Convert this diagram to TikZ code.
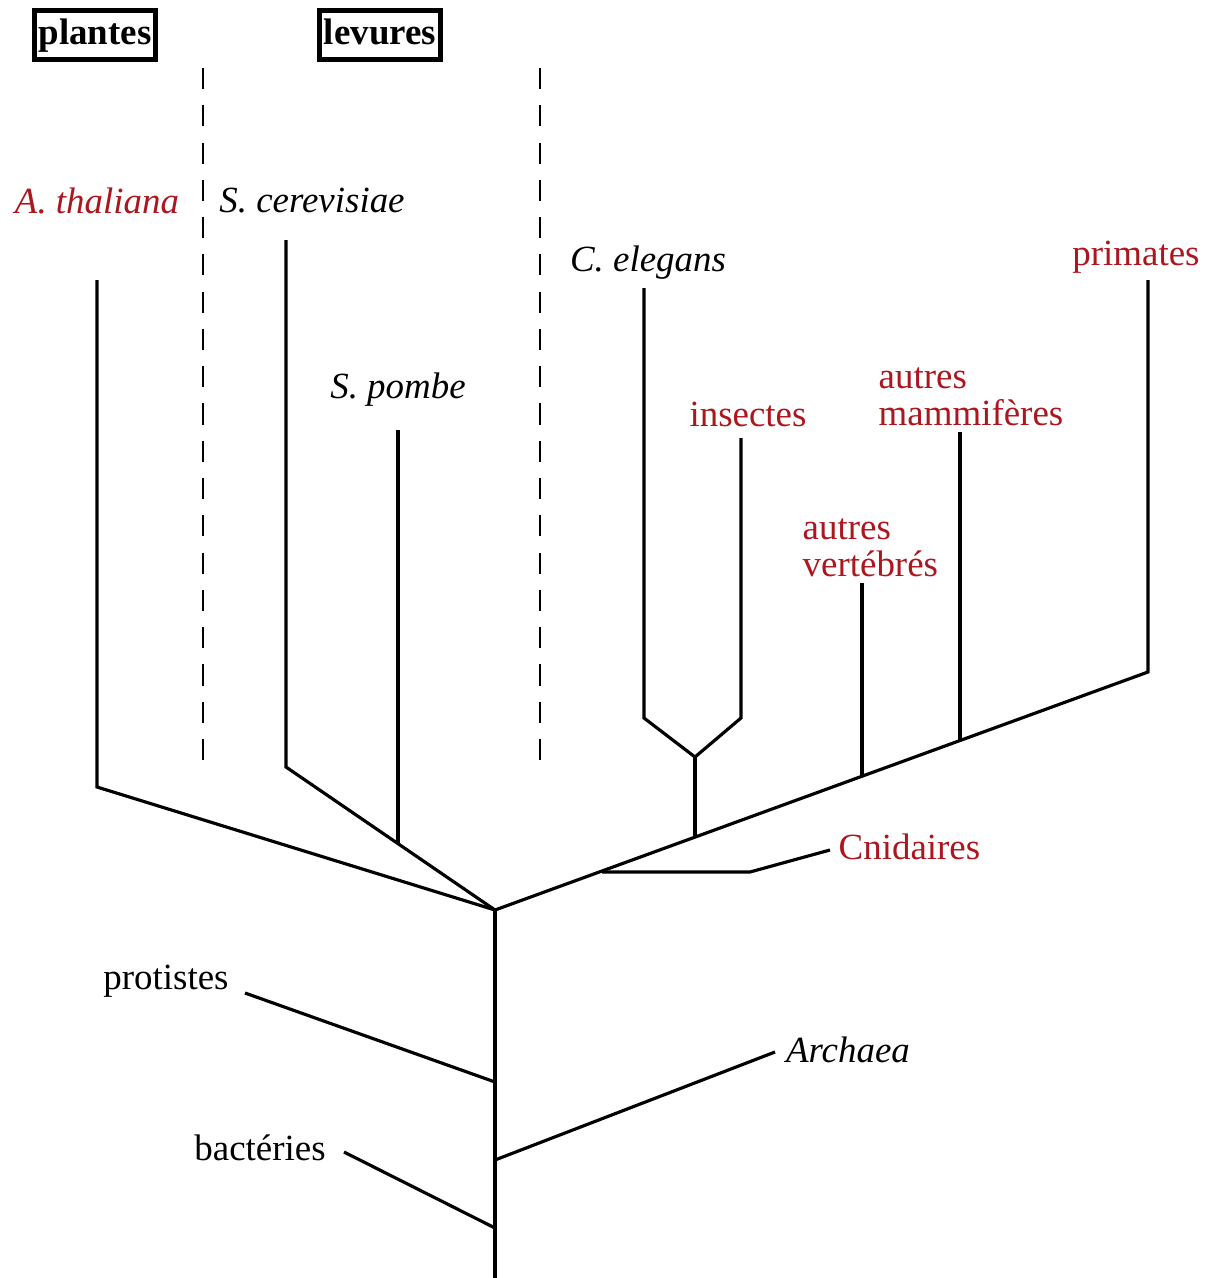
\documentclass[tikz,border=0pt]{standalone}
\usepackage{fontspec}
\setmainfont{Liberation Serif}
\definecolor{rougetaxon}{RGB}{172,22,30}
\newcommand{\taille}{\fontsize{10.5}{10.4}\selectfont}
\tikzset{
  branche/.style={line width=0.9pt},
  separation/.style={line width=0.8pt, dash pattern=on 6pt off 4.6pt},
  groupe/.style={draw, line width=1.3pt, inner xsep=1.2pt, inner ysep=2pt,
    text height=7.6pt, text depth=2.4pt, font=\taille\bfseries},
  taxon/.style={inner sep=0pt, font=\taille},
  espece/.style={inner sep=0pt, font=\taille\itshape},
  animal/.style={text=rougetaxon}
}
\begin{document}
\begin{tikzpicture}[x=0.01cm,y=-0.01cm]
  \useasboundingbox (0,0) rectangle (1212,1278);
  % groupes
  \node[groupe] (plantes) at (95,35) {plantes};
  \node[groupe] (levures) at (380,35) {levures};
  \coordinate (sepAh) at (203,68);
  \coordinate (sepAb) at (203,765);
  \coordinate (sepBh) at (540,68);
  \coordinate (sepBb) at (540,765);
  \draw[separation] (sepAh) -- (sepAb);
  \draw[separation] (sepBh) -- (sepBb);
  % feuilles
  \node[espece,animal] (thal) at (97,201) {A. thaliana};
  \node[espece] (cerev) at (312,201) {S. cerevisiae};
  \node[espece] (pombe) at (398,390) {S. pombe};
  \node[espece] (eleg) at (648,263) {C. elegans};
  \node[taxon,animal] (insec) at (748,414) {insectes};
  \node[taxon,animal,align=left,anchor=west] (mamm) at (878,397) {autres\\mammifères};
  \node[taxon,animal,align=left,anchor=west] (vert) at (802,548) {autres\\vertébrés};
  \node[taxon,animal] (prim) at (1136,257) {primates};
  \node[taxon,animal,anchor=west] (cnid) at (838,847) {Cnidaires};
  \node[taxon] (prot) at (166,981) {protistes};
  \node[taxon] (bact) at (260,1148) {bactéries};
  \node[espece] (arch) at (848,1050) {Archaea};
  % points de l'arbre
  \coordinate (racine) at (495,910);
  \coordinate (bas) at (495,1278);
  \coordinate (thalH) at (97,280);
  \coordinate (thalB) at (97,787);
  \coordinate (cerevH) at (286,240);
  \coordinate (cerevB) at (286,767);
  \coordinate (pombeH) at (398,430);
  \coordinate (pombeB) at (398,844);
  \coordinate (primH) at (1148,280);
  \coordinate (primB) at (1148,672);
  \coordinate (mammH) at (960,432);
  \coordinate (mammB) at (960,740);
  \coordinate (vertH) at (862,583);
  \coordinate (vertB) at (862,776);
  \coordinate (elegH) at (644,288);
  \coordinate (elegB) at (644,718);
  \coordinate (insecH) at (741,438);
  \coordinate (insecB) at (741,718);
  \coordinate (noeudY) at (695,757);
  \coordinate (noeudYB) at (695,837);
  \coordinate (cnidA) at (602,872);
  \coordinate (cnidB) at (750,872);
  \coordinate (cnidC) at (830,850);
  \coordinate (protA) at (245,993);
  \coordinate (protB) at (495,1082);
  \coordinate (bactA) at (344,1152);
  \coordinate (bactB) at (495,1228);
  \coordinate (archA) at (495,1160);
  \coordinate (archB) at (775,1052);
  % branches
  \draw[branche] (thalH) -- (thalB) -- (racine);
  \draw[branche] (cerevH) -- (cerevB) -- (racine);
  \draw[branche] (pombeH) -- (pombeB);
  \draw[branche] (racine) -- (bas);
  \draw[branche] (racine) -- (primB) -- (primH);
  \draw[branche] (mammH) -- (mammB);
  \draw[branche] (vertH) -- (vertB);
  \draw[branche] (elegH) -- (elegB) -- (noeudY) -- (insecB) -- (insecH);
  \draw[branche] (noeudY) -- (noeudYB);
  \draw[branche] (cnidA) -- (cnidB) -- (cnidC);
  \draw[branche] (protA) -- (protB);
  \draw[branche] (bactA) -- (bactB);
  \draw[branche] (archA) -- (archB);
\end{tikzpicture}
\end{document}
